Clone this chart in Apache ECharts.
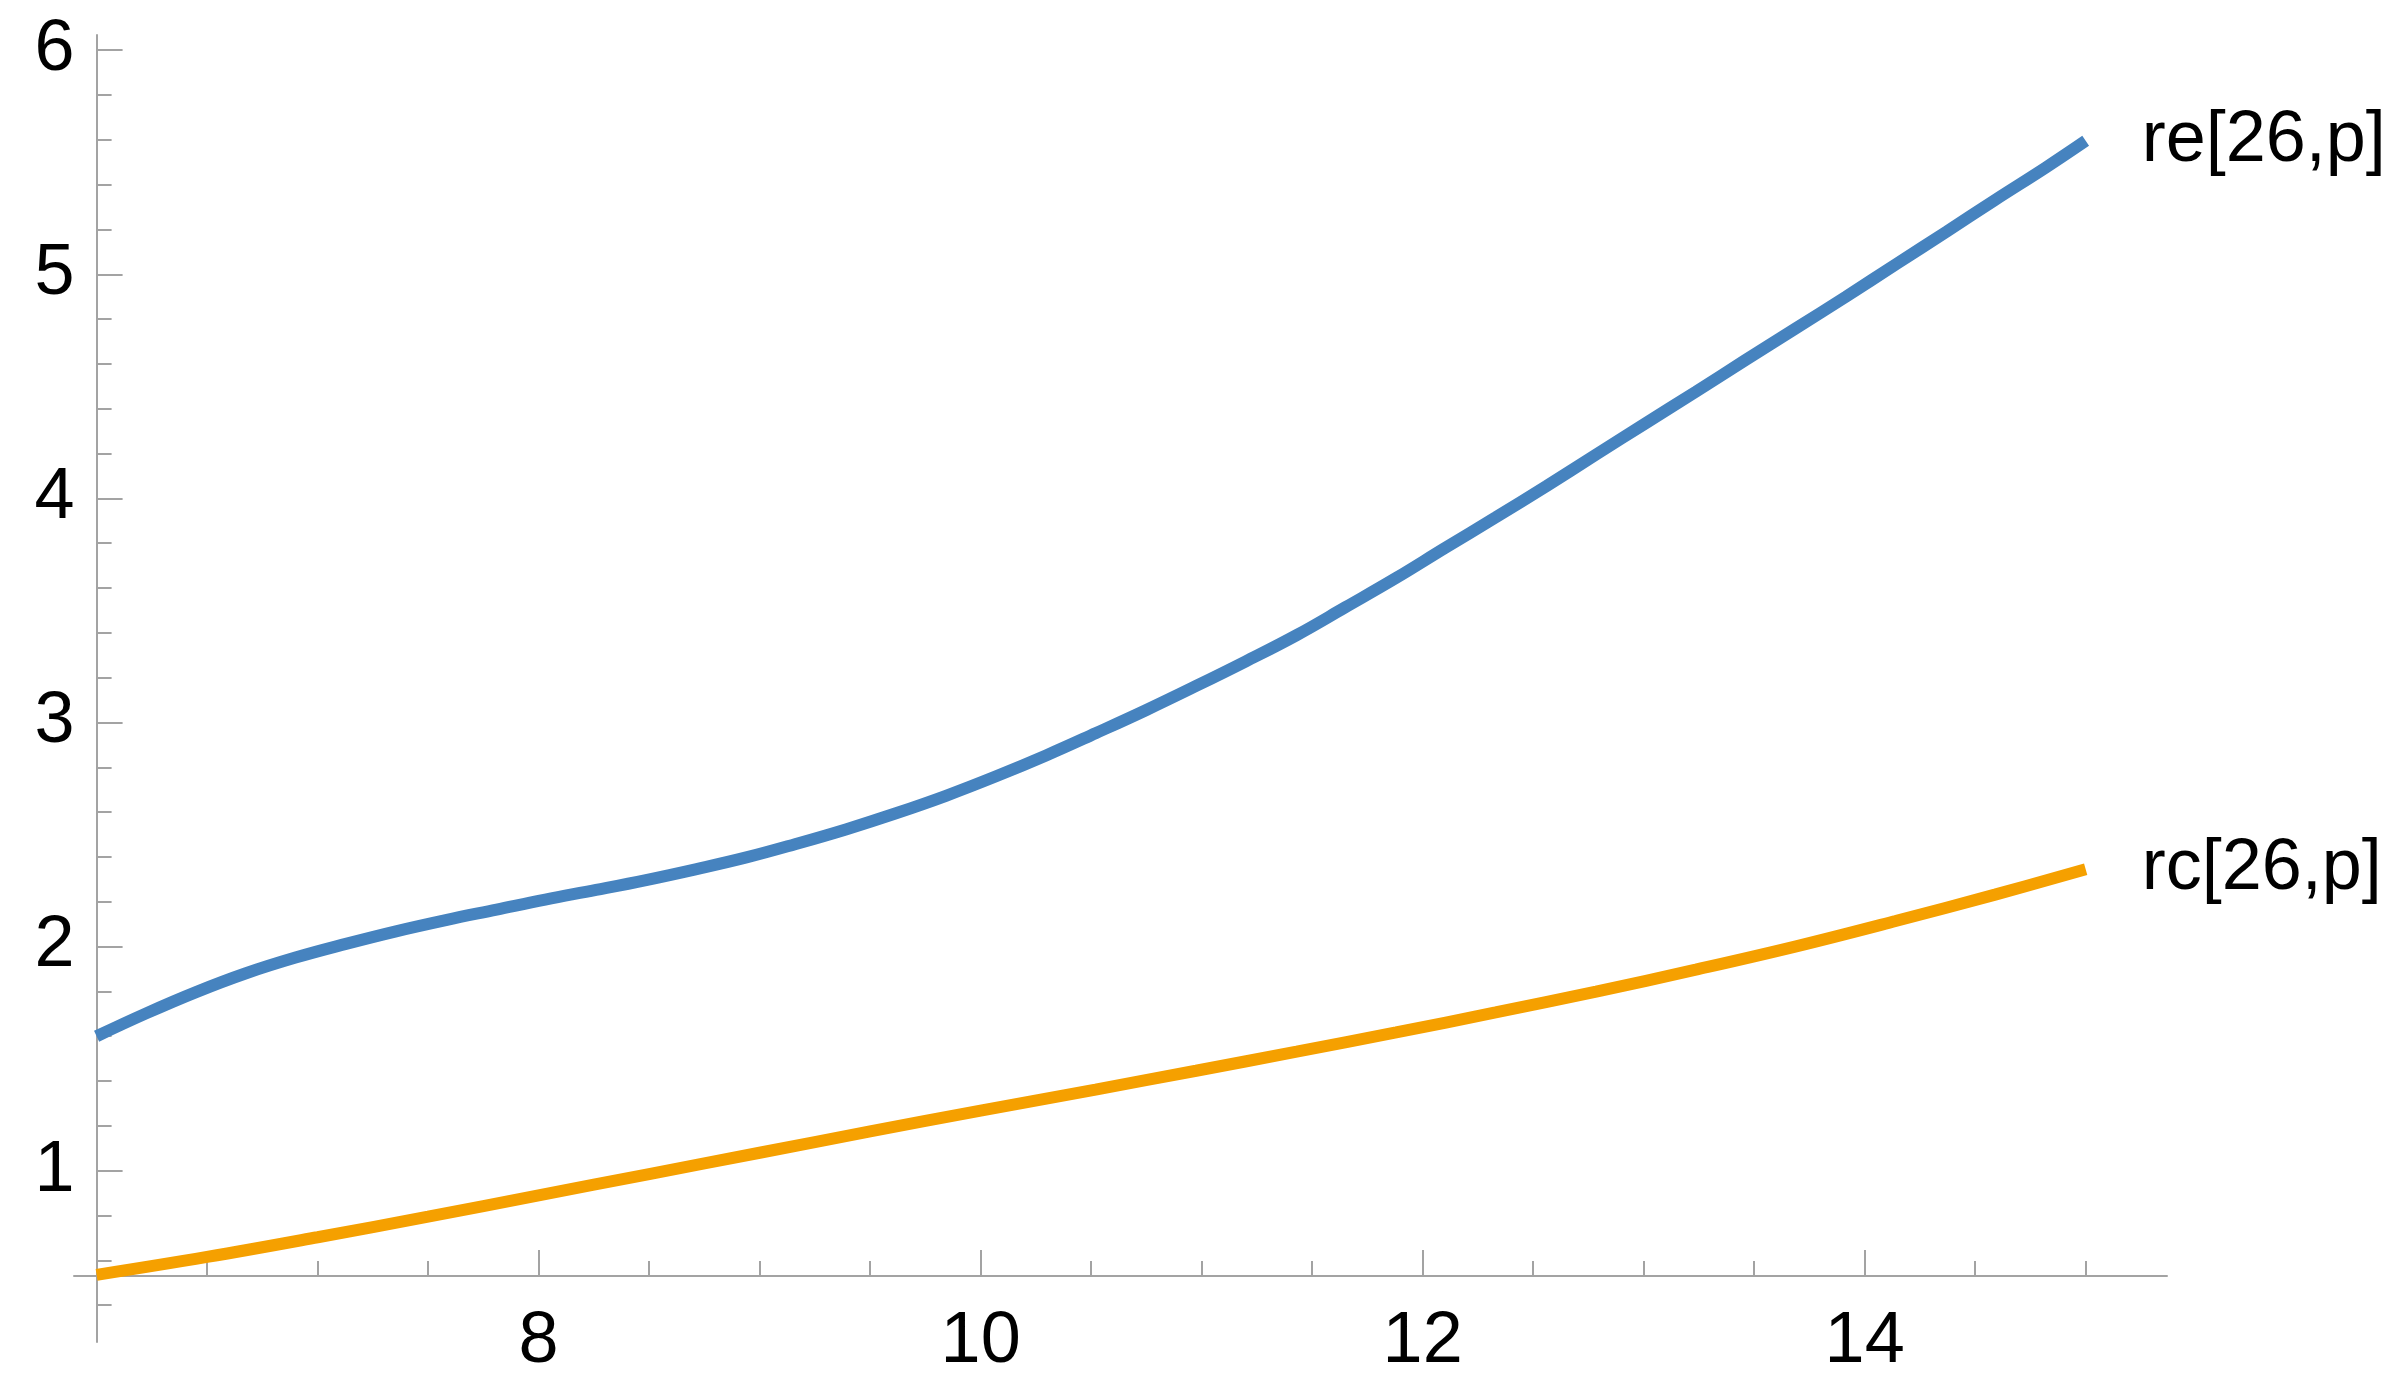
<!DOCTYPE html>
<html>
<head>
<meta charset="utf-8">
<script src="https://cdn.jsdelivr.net/npm/echarts@6/dist/echarts.min.js"></script>
<style>
html,body{margin:0;padding:0;background:#fff;}
#c{width:2405px;height:1381px;}
</style>
</head>
<body>
<div id="c"></div>
<script>
// ---- data ----
const reX = [6.0,6.224,6.45,6.676,6.90,7.128,7.35,7.58,7.81,8.03,8.26,8.486,8.71,8.94,9.16,9.39,9.617,9.843,10.07,10.296,10.52,10.75,10.975,11.2,11.43,11.65,11.88,12.1,12.33,12.56,12.785,13.01,13.236,13.46,13.69,13.915,14.14,14.37,14.59,14.82,15.0];
const reY = [1.600,1.702,1.797,1.881,1.951,2.012,2.067,2.118,2.165,2.210,2.253,2.297,2.345,2.398,2.457,2.523,2.595,2.673,2.760,2.853,2.952,3.056,3.163,3.273,3.390,3.514,3.645,3.778,3.915,4.055,4.196,4.336,4.476,4.617,4.760,4.900,5.044,5.190,5.332,5.477,5.596];
const rcX = [6.0,6.5,7.0,7.5,8.0,8.5,9.0,9.5,10.0,10.52,10.975,11.43,11.88,12.33,12.785,13.236,13.69,14.14,14.59,15.0];
const rcY = [0.535,0.615,0.703,0.795,0.890,0.985,1.080,1.175,1.268,1.362,1.446,1.531,1.617,1.706,1.799,1.897,2.001,2.114,2.232,2.345];
const seriesNames = ['re[26,p]','rc[26,p]'];
const xMajorTicks = [8,10,12,14];
const xMinorTicks = [6.5,7,7.5,8.5,9,9.5,10.5,11,11.5,12.5,13,13.5,14.5,15];
const yMajorTicks = [1,2,3,4,5,6];
const yMinorTicks = [0.6,0.8,1.2,1.4,1.6,1.8,2.2,2.4,2.6,2.8,3.2,3.4,3.6,3.8,4.2,4.4,4.6,4.8,5.2,5.4,5.6,5.8];
const yExtMinorTicks = [0.4];
// axis ranges
const xMin = 6, xMax = 15.368, xExtMin = 5.9;
const yMin = 0.53, yMax = 6.068, yExtMin = 0.23;

// ---- styling ----
const FONT = 'Liberation Sans';
const AXIS_COLOR = '#a3a3a3';
const BLUE = '#4683bf';
const ORANGE = '#f5a000';

const reData = reX.map((x,i)=>[x,reY[i]]);
const rcData = rcX.map((x,i)=>[x,rcY[i]]);

const axisLineStyle = {color: AXIS_COLOR, width: 2};
const chart = echarts.init(document.getElementById('c'), null, {renderer:'canvas'});
chart.setOption({
  animation: false,
  backgroundColor: '#fff',
  grid: [
    {left: 96.6, top: 35, width: 2070.4, height: 1241},   // main
    {left: 74, top: 1276, width: 2093, height: 66},       // x-axis line (extends left of the y axis)
    {left: 96.6, top: 1276, width: 10, height: 66}        // y-axis extension below the x axis
  ],
  xAxis: [
    {gridIndex:0, type:'value', min:xMin, max:xMax, position:'bottom',
     axisLine:{show:false}, splitLine:{show:false},
     axisTick:{show:true, inside:true, length:26, lineStyle:axisLineStyle, customValues:xMajorTicks},
     axisLabel:{show:true, customValues:xMajorTicks, margin:30, fontSize:72, fontFamily:FONT, color:'#000'}},
    {gridIndex:0, type:'value', min:xMin, max:xMax, position:'bottom',
     axisLine:{show:false}, splitLine:{show:false}, axisLabel:{show:false},
     axisTick:{show:true, inside:true, length:15, lineStyle:axisLineStyle, customValues:xMinorTicks}},
    {gridIndex:1, type:'value', min:xExtMin, max:xMax, position:'top',
     axisLine:{show:true, onZero:false, lineStyle:axisLineStyle}, splitLine:{show:false},
     axisTick:{show:false}, axisLabel:{show:false}},
    {gridIndex:2, type:'value', min:0, max:1, show:false}
  ],
  yAxis: [
    {gridIndex:0, type:'value', min:yMin, max:yMax, position:'left',
     axisLine:{show:true, onZero:false, lineStyle:axisLineStyle}, splitLine:{show:false},
     axisTick:{show:true, inside:true, length:26, lineStyle:axisLineStyle, customValues:yMajorTicks},
     axisLabel:{show:true, customValues:yMajorTicks, margin:22, fontSize:72, fontFamily:FONT, color:'#000'}},
    {gridIndex:0, type:'value', min:yMin, max:yMax, position:'left',
     axisLine:{show:false}, splitLine:{show:false}, axisLabel:{show:false},
     axisTick:{show:true, inside:true, length:15, lineStyle:axisLineStyle, customValues:yMinorTicks}},
    {gridIndex:1, type:'value', min:0, max:1, show:false},
    {gridIndex:2, type:'value', min:yExtMin, max:yMin, position:'left',
     axisLine:{show:true, onZero:false, lineStyle:axisLineStyle}, splitLine:{show:false},
     axisLabel:{show:false},
     axisTick:{show:true, inside:true, length:15, lineStyle:axisLineStyle, customValues:yExtMinorTicks}}
  ],
  series: [
    {name: seriesNames[0], type:'line', xAxisIndex:0, yAxisIndex:0, data: reData,
     smooth: 0.4, showSymbol:false, symbol:'none', clip:false,
     lineStyle:{color:BLUE, width:12, cap:'butt'},
     endLabel:{show:true, formatter: seriesNames[0], distance:56, fontSize:72, fontFamily:FONT, color:'#000'}},
    {name: seriesNames[1], type:'line', xAxisIndex:0, yAxisIndex:0, data: rcData,
     smooth: 0.4, showSymbol:false, symbol:'none', clip:false,
     lineStyle:{color:ORANGE, width:12, cap:'butt'},
     endLabel:{show:true, formatter: seriesNames[1], distance:56, fontSize:72, fontFamily:FONT, color:'#000'}}
  ]
});
</script>
</body>
</html>
